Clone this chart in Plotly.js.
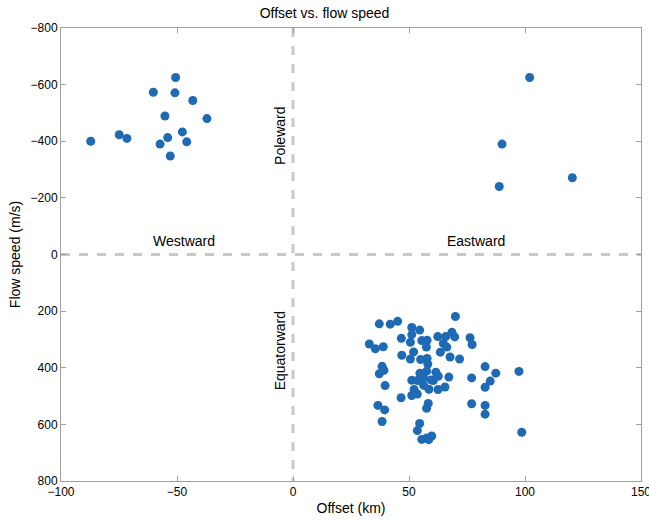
<!DOCTYPE html>
<html>
<head>
<meta charset="utf-8">
<script src="https://cdn.plot.ly/plotly-3.0.1.min.js"></script>
<style>html,body{margin:0;padding:0;background:#fff;}#chart{width:649px;height:520px;}</style>
</head>
<body>
<div id="chart"></div>
<script>
// Offsets (km) and flow speeds (m/s)
const westOffset = [-50.6,-60.2,-50.9,-43.2,-55.2,-37.1,-74.9,-71.6,-87.2,-47.7,-54.0,-45.8,-57.3,-52.9];
const westSpeed  = [-625,-573,-571,-544,-489,-480,-423,-410,-400,-433,-413,-398,-390,-348];

const eastPoleOffset = [102.0,90.1,120.4,88.9];
const eastPoleSpeed  = [-625,-390,-271,-240];

const eqOffset = [70.0,37.2,41.9,45.1,51.2,54.6,51.2,46.7,50.6,55.5,57.8,57.5,62.4,65.8,68.5,69.7,76.3,77.2,64.8,66.3,63.5,32.9,35.5,38.9,46.9,52.0,50.6,55.0,57.8,58.1,67.7,71.8,38.4,39.2,37.2,39.7,54.7,57.6,61.6,62.6,59.5,51.2,53.6,56.3,60.5,67.2,65.5,62.5,58.6,56.3,52.2,51.2,53.6,46.6,77.0,82.8,87.4,85.0,82.8,97.4,77.0,82.8,82.8,36.6,39.5,38.4,58.3,57.6,54.6,53.6,55.5,57.6,59.8,98.6,58.5];
const eqSpeed  = [219,245,246,236,258,267,283,296,310,304,303,327,290,290,275,291,294,318,314,327,345,316,333,326,356,344,369,371,367,387,362,369,395,409,421,463,419,412,416,430,443,444,445,436,445,433,468,477,476,462,477,498,493,506,436,396,419,447,469,413,527,533,564,533,549,590,526,543,597,622,653,648,641,628,654];

const xTicks = [-100,-50,0,50,100,150];
const yTicks = [-800,-600,-400,-200,0,200,400,600,800];

const allX = westOffset.concat(eastPoleOffset, eqOffset);
const allY = westSpeed.concat(eastPoleSpeed, eqSpeed);

const font = {family: 'Liberation Sans, Arial, sans-serif', color: '#000'};

const traces = [
  {x:[0,0], y:[-800,800], mode:'lines', line:{color:'#c8c8c8', width:3, dash:'dash'}, hoverinfo:'skip', showlegend:false},
  {x:[-100,150], y:[0,0], mode:'lines', line:{color:'#c8c8c8', width:3, dash:'dash'}, hoverinfo:'skip', showlegend:false},
  {x: allX, y: allY, mode:'markers', type:'scatter', marker:{color:'#1f6ab4', size:9}, showlegend:false}
];

const axisCommon = {
  showgrid:false, zeroline:false, showline:true, linecolor:'#a0a0a0', linewidth:1,
  mirror:'ticks', ticks:'inside', ticklen:5, tickcolor:'#a0a0a0',
  ticklabeloverflow:'allow',
  tickfont:{family:font.family, size:12, color:'#000'}
};

const layout = {
  width:649, height:520,
  margin:{l:61, r:8, t:28, b:39},
  paper_bgcolor:'#fff', plot_bgcolor:'#fff',
  font: font,
  title:{text:'Offset vs. flow speed', font:{family:font.family, size:14, color:'#000'}, x:0.5, xanchor:'center', y:0.985, yanchor:'top'},
  xaxis: Object.assign({}, axisCommon, {
    range:[-100,150], tickvals:xTicks,
    title:{text:'Offset (km)', font:{family:font.family, size:14}, standoff:4}
  }),
  yaxis: Object.assign({}, axisCommon, {
    range:[800,-800], tickvals:yTicks,
    title:{text:'Flow speed (m/s)', font:{family:font.family, size:14}, standoff:6}
  }),
  annotations:[
    {x:-47, y:-48, text:'Westward', showarrow:false, font:{family:font.family, size:14}},
    {x:79, y:-48, text:'Eastward', showarrow:false, font:{family:font.family, size:14}},
    {x:-5.6, y:-419, text:'Poleward', textangle:-90, showarrow:false, font:{family:font.family, size:14}},
    {x:-5.6, y:342, text:'Equatorward', textangle:-90, showarrow:false, font:{family:font.family, size:14}}
  ]
};

Plotly.newPlot('chart', traces, layout, {displayModeBar:false, staticPlot:true});
</script>
</body>
</html>
